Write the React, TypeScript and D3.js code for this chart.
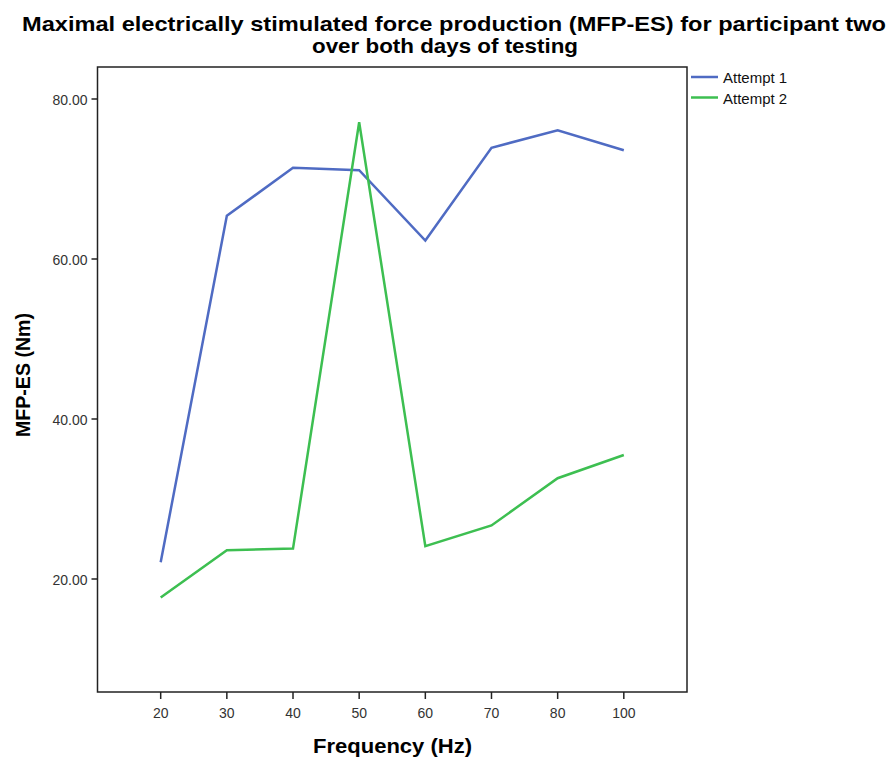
import React from "react";
import * as d3 from "d3";

const frequencies = ["20", "30", "40", "50", "60", "70", "80", "100"];
const attempt1 = [22.1, 65.4, 71.4, 71.1, 62.3, 73.9, 76.1, 73.6];
const attempt2 = [17.7, 23.6, 23.8, 77.1, 24.1, 26.7, 32.6, 35.5];
const yTicks = [20, 40, 60, 80];
const seriesNames = ["Attempt 1", "Attempt 2"];
const seriesColors = ["#4f6bc3", "#3dbf51"];

const W = 888;
const H = 758;
const plot = { left: 97.5, right: 687, top: 67, bottom: 692 };

export default function App() {
  const x = d3
    .scalePoint<string>()
    .domain(frequencies)
    .range([plot.left, plot.right])
    .padding(0.955);
  const y = d3
    .scaleLinear()
    .domain([5.875, 84])
    .range([plot.bottom, plot.top]);

  const line = d3
    .line<number>()
    .x((_, i) => x(frequencies[i]) as number)
    .y((d) => y(d));

  const series = [attempt1, attempt2];
  const font = "'Liberation Sans', Arial, sans-serif";

  return (
    <svg
      width={W}
      height={H}
      style={{ position: "absolute", left: 0, top: 0, background: "#fff" }}
      fontFamily={font}
    >
      <rect x={0} y={0} width={W} height={H} fill="#fff" />
      <text
        x={454}
        y={31}
        textAnchor="middle"
        fontWeight="bold"
        fontSize={21}
        textLength={864}
        lengthAdjust="spacingAndGlyphs"
        fill="#000"
      >
        Maximal electrically stimulated force production (MFP-ES) for participant two
      </text>
      <text
        x={445}
        y={53}
        textAnchor="middle"
        fontWeight="bold"
        fontSize={21}
        textLength={266}
        lengthAdjust="spacingAndGlyphs"
        fill="#000"
      >
        over both days of testing
      </text>

      {/* plot frame */}
      <rect
        x={plot.left}
        y={plot.top}
        width={plot.right - plot.left}
        height={plot.bottom - plot.top}
        fill="none"
        stroke="#222"
        strokeWidth={1.5}
      />

      {/* y ticks */}
      {yTicks.map((t) => (
        <g key={t}>
          <line
            x1={plot.left - 6}
            x2={plot.left}
            y1={y(t)}
            y2={y(t)}
            stroke="#222"
            strokeWidth={1.5}
          />
          <text
            x={plot.left - 10}
            y={y(t)}
            dy="0.4em"
            textAnchor="end"
            fontSize={14}
            fill="#333"
          >
            {t.toFixed(2)}
          </text>
        </g>
      ))}

      {/* x ticks */}
      {frequencies.map((f) => (
        <g key={f}>
          <line
            x1={x(f)}
            x2={x(f)}
            y1={plot.bottom}
            y2={plot.bottom + 7}
            stroke="#222"
            strokeWidth={1.5}
          />
          <text
            x={x(f)}
            y={plot.bottom + 26}
            textAnchor="middle"
            fontSize={14}
            fill="#333"
          >
            {f}
          </text>
        </g>
      ))}

      {/* axis titles */}
      <text
        x={392.5}
        y={753}
        textAnchor="middle"
        fontWeight="bold"
        fontSize={20.5}
        textLength={159}
        lengthAdjust="spacingAndGlyphs"
        fill="#000"
      >
        Frequency (Hz)
      </text>
      <text
        transform={`translate(30,375) rotate(-90)`}
        textAnchor="middle"
        fontWeight="bold"
        fontSize={20}
        textLength={124}
        lengthAdjust="spacingAndGlyphs"
        fill="#000"
      >
        MFP-ES (Nm)
      </text>

      {/* lines */}
      {series.map((s, i) => (
        <path
          key={i}
          d={line(s) as string}
          fill="none"
          stroke={seriesColors[i]}
          strokeWidth={2.5}
          strokeLinejoin="miter"
        />
      ))}

      {/* legend */}
      {seriesNames.map((n, i) => (
        <g key={n}>
          <line
            x1={691}
            x2={718}
            y1={77 + i * 20.5}
            y2={77 + i * 20.5}
            stroke={seriesColors[i]}
            strokeWidth={2.5}
          />
          <text x={723} y={77 + i * 20.5} dy="0.4em" fontSize={15} fill="#111">
            {n}
          </text>
        </g>
      ))}
    </svg>
  );
}
